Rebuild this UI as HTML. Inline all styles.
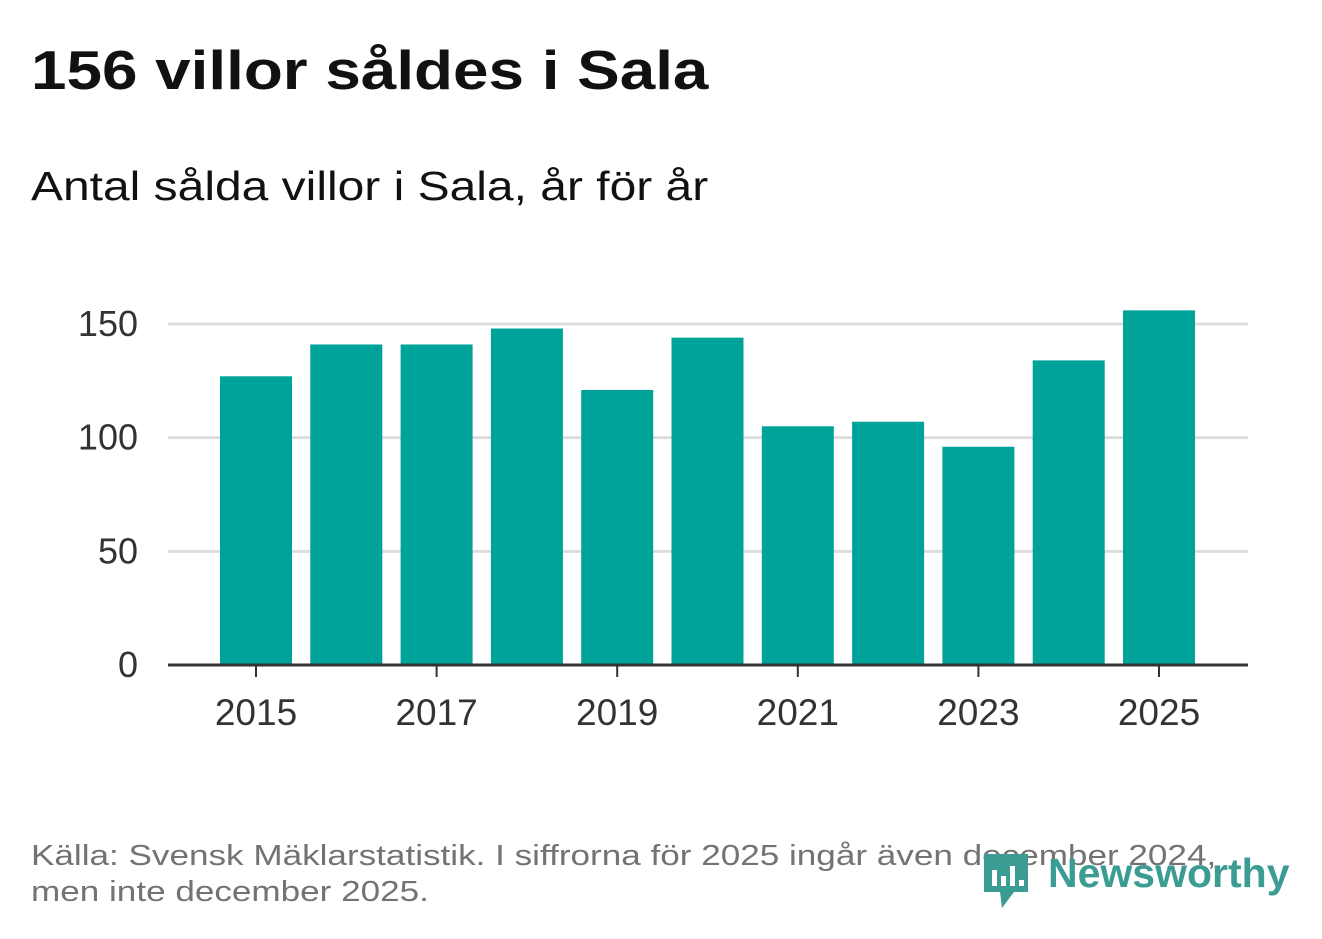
<!DOCTYPE html>
<html><head><meta charset="utf-8"><style>
body{margin:0;background:#fff;width:1322px;height:939px;overflow:hidden;font-family:"Liberation Sans",sans-serif;position:relative}
.t{position:absolute;white-space:nowrap;transform-origin:0 0}
</style></head><body>
<div class="t" style="left:31px;top:38px;font-size:55px;font-weight:bold;color:#111;transform:scaleX(1.16)">156 villor såldes i Sala</div>
<div class="t" style="left:31px;top:163px;font-size:41px;color:#111;transform:scaleX(1.17)">Antal sålda villor i Sala, år för år</div>
<svg id="c" width="1322" height="939" style="position:absolute;left:0;top:0"></svg>
<div class="t" style="left:31px;top:838px;font-size:29px;color:#737373;line-height:36px;transform:scaleX(1.21)">Källa: Svensk Mäklarstatistik. I siffrorna för 2025 ingår även december 2024,<br>men inte december 2025.</div>
<svg style="position:absolute;left:982px;top:852px" width="50" height="58">
<path d="M2 2H46V40H32L20 56L18 40H2Z" fill="#3a9c92"/>
<rect x="10" y="18" width="5" height="16" fill="#fff"/><rect x="19" y="24" width="5" height="10" fill="#fff"/><rect x="28" y="14" width="5" height="20" fill="#fff"/><rect x="37" y="28" width="5" height="6" fill="#fff"/></svg>
<div class="t" style="left:1048px;top:850px;font-size:41px;font-weight:bold;color:#3a9c92">Newsworthy</div>
<script>
const years=[2015,2016,2017,2018,2019,2020,2021,2022,2023,2024,2025];
const values=[127,141,141,148,121,144,105,107,96,134,156];
const yTicks=[0,50,100,150];
const xLabels=[2015,2017,2019,2021,2023,2025];
const svg=document.getElementById('c');const NS='http://www.w3.org/2000/svg';
const y=v=>665-v*341/150;
const x=yr=>256+(yr-2015)*90.3;
function mk(t,a){const e=document.createElementNS(NS,t);for(const k in a)e.setAttribute(k,a[k]);svg.appendChild(e);return e;}
yTicks.forEach(v=>{
 if(v>0){const g=mk('line',{x1:168,x2:1248,y1:y(v),y2:y(v),stroke:'#ddd','stroke-width':3});
 
 }
 const t=mk('text',{x:138,y:y(v)+12,'text-anchor':'end','font-size':36,fill:'#333','font-family':'Liberation Sans, sans-serif'});t.textContent=v;
 
 
});
years.forEach((yr,i)=>{
 const r=mk('rect',{x:x(yr)-36,y:y(values[i]),width:72,height:665-y(values[i]),fill:'#00a39a'});
 
 
});
const ax=mk('line',{x1:168,x2:1248,y1:665,y2:665,stroke:'#333','stroke-width':3});


xLabels.forEach(yr=>{
 const tk=mk('line',{x1:x(yr),x2:x(yr),y1:665,y2:677,stroke:'#333','stroke-width':2});
 
 
 const t=mk('text',{x:x(yr),y:725,'text-anchor':'middle','font-size':37,fill:'#333','font-family':'Liberation Sans, sans-serif'});t.textContent=yr;
 
 
});
</script>
</body></html>
